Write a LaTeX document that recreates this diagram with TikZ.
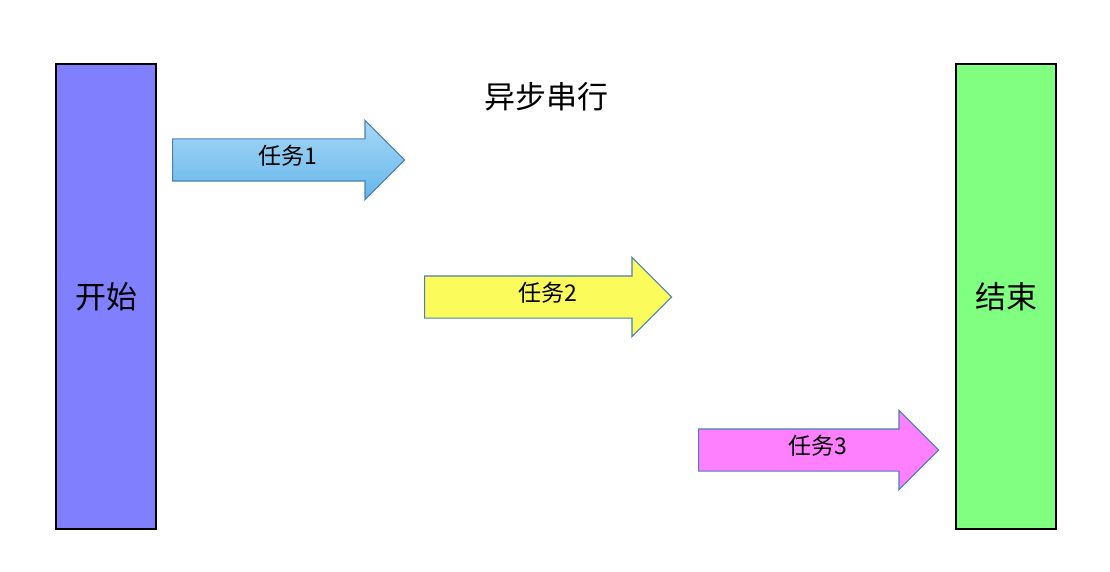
\documentclass[tikz,border=0pt]{standalone}
\usepackage{fontspec}
\setmainfont{Noto Sans CJK SC}
\usetikzlibrary{shapes.arrows}
\definecolor{startblue}{HTML}{8080FF}
\definecolor{endgreen}{HTML}{80FF80}
\definecolor{taskedge}{HTML}{4A80B4}
\definecolor{tasktop}{HTML}{A6D8F7}
\definecolor{taskbot}{HTML}{66B6EA}
\definecolor{taskyellow}{HTML}{FBFB5C}
\definecolor{taskpink}{HTML}{FF80FF}
\begin{document}
\begin{tikzpicture} [x=1pt,y=-1pt,
  bar/.style={draw=black,line width=1.5pt,minimum width=100pt,minimum height=465pt,font=\fontsize{31}{34}\selectfont},
  task/.style={single arrow,draw=taskedge,line width=1.2pt,minimum height=232pt,anchor=tail,
    single arrow head extend=18.5pt,inner xsep=4pt,inner ysep=0pt,
    text height=25pt,text depth=16pt,font=\fontsize{23}{26}\selectfont,
    execute at begin node={\hspace*{20pt}}}]
\useasboundingbox[fill=white] (0,0) rectangle (1110,572);
\node[bar,fill=startblue] (start) at (106,296.5) {开始};
\node[bar,fill=endgreen] (finish) at (1006,296.5) {结束};
\node[font=\fontsize{31}{34}\selectfont] (title) at (546,97) {异步串行};
\node[task,top color=tasktop,bottom color=taskbot] (task1) at (172,160) {任务1};
\node[task,fill=taskyellow,minimum height=247pt] (task2) at (424,297) {任务2};
\node[task,fill=taskpink,minimum height=240pt] (task3) at (698,450) {任务3};
\end{tikzpicture}
\end{document}
